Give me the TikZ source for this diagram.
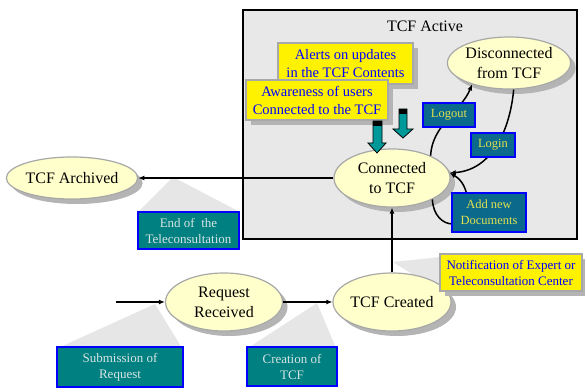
\documentclass[tikz,border=0pt]{standalone}
\usepackage{fontspec}
\setmainfont{Liberation Serif}
\usetikzlibrary{shapes.geometric, shadows, arrows.meta}

\begin{document}
\begin{tikzpicture}[x=1pt, y=-1pt,
  estado/.style={ellipse, draw=borda, line width=1.2pt, fill=creme, inner sep=0pt, align=center,
    font=\fontsize{16}{20}\selectfont,
    drop shadow={shadow xshift=5pt, shadow yshift=-5pt, fill=sombra, opacity=1}},
  nota/.style={rectangle, draw=borda, line width=1.5pt, fill=yellow, text=azul, inner sep=0pt, align=center,
    font=\fontsize{14.5}{18}\selectfont,
    drop shadow={shadow xshift=5pt, shadow yshift=-5pt, fill=sombra, opacity=1}},
  evento/.style={rectangle, draw=azul, line width=2pt, fill=verdeagua, text=textoclaro, inner sep=0pt, align=center,
    font=\fontsize{13}{16}\selectfont},
  acao/.style={rectangle, draw=azul, line width=2pt, fill=petroleo, text=textoamarelo, inner sep=0pt, align=center,
    font=\fontsize{12.5}{16}\selectfont},
  fluxo/.style={-{Latex[length=6pt,width=5pt]}, line width=1.5pt}]
% --- CORES ---
\definecolor{creme}{HTML}{FFFFCC}
\definecolor{borda}{HTML}{A8A8A8}
\definecolor{sombra}{HTML}{B4B4B4}
\definecolor{azul}{HTML}{0000FF}
\definecolor{verdeagua}{HTML}{008080}
\definecolor{petroleo}{HTML}{0B6A8C}
\definecolor{textoclaro}{HTML}{D8E4E4}
\definecolor{textoamarelo}{HTML}{E0E050}
\definecolor{fundo}{HTML}{E8E8E8}
\definecolor{balao}{HTML}{E6E6E6}
\definecolor{seta}{HTML}{009999}

\useasboundingbox (0,0) rectangle (585,390);

% LAYER 1: Moldura do estado composto
\draw[fill=fundo, line width=2pt] (243,10) rectangle (577,239);
\node (ativo) at (425,26) {\fontsize{16}{20}\selectfont TCF Active};

% LAYER 2: Baloes das transicoes
\fill[balao] (173,177) -- (139,211) -- (238,211) -- cycle; % End of the Teleconsultation
\fill[balao] (155,304) -- (58,348) -- (182,348) -- cycle; % Submission of Request
\fill[balao] (317,303) -- (248,348) -- (336,348) -- cycle; % Creation of TCF
\fill[balao] (393,262) -- (440,257) -- (440,292) -- cycle; % Notification

% LAYER 3: Estados
\node[estado, minimum width=118pt, minimum height=42pt] (arquivado) at (72,178) {TCF Archived};
\node[estado, minimum width=117pt, minimum height=58pt] (recebido) at (224,302) {Request\\Received};
\node[estado, minimum width=118pt, minimum height=58pt] (criado) at (392,302) {TCF Created};
\node[estado, minimum width=116pt, minimum height=58pt] (conectado) at (392,178) {Connected\\to TCF};
\node[estado, minimum width=120pt, minimum height=52pt] (desconectado) at (509,63) {Disconnected\\from TCF};

% LAYER 4: Transicoes
\coordinate (inicio) at (116,302);
\draw[fluxo] (inicio) -- (recebido.west);
\draw[fluxo] (recebido.east) -- (criado.west);
\draw[fluxo] (criado.north) -- (conectado.south);
\draw[fluxo] (conectado.west) -- (arquivado.east);
\draw[fluxo] (conectado.30) .. controls (432,125) and (462,110) .. (desconectado.210);
\draw[fluxo] (desconectado.-80) .. controls (510,130) and (492,170) .. (conectado.5);
\draw[fluxo] (conectado.-28) .. controls (434,232) and (472,232) .. (468,200) .. controls (466,188) and (462,180) .. (conectado.5);

% LAYER 5: Rotulos
\node[evento, minimum width=101pt, minimum height=37pt] (fim) at (188.5,230.5) {End of\ \ the\\Teleconsultation};
\node[evento, minimum width=126pt, minimum height=40pt] (submissao) at (120,367) {Submission of\\Request};
\node[evento, minimum width=90pt, minimum height=39pt] (criacao) at (292,366.5) {Creation of\\TCF};
\node[acao, minimum width=52pt, minimum height=24pt] (logout) at (449,115) {Logout};
\node[acao, minimum width=44pt, minimum height=24pt] (login) at (493,145) {Login};
\node[acao, minimum width=74pt, minimum height=39pt] (documentos) at (489,212.5) {Add new\\Documents};

% LAYER 6: Notas
\node[nota, minimum width=135pt, minimum height=41pt] (alertas) at (345.5,63.5) {Alerts on updates\\in the TCF Contents};
\node[nota, minimum width=142pt, minimum height=40pt] (usuarios) at (317,100) {Awareness of users\\Connected to the TCF};
\node[nota, minimum width=142pt, minimum height=37pt, font=\fontsize{13}{16}\selectfont] (notificacao) at (511,272.5) {Notification of Expert or\\Teleconsultation Center};

% LAYER 7: Setas de bloco
\draw[fill=seta, line width=0.8pt] (373,121) -- (382,121) -- (382,143) -- (386,143) -- (377,153) -- (368,143) -- (373,143) -- cycle;
\fill[black] (373,121) rectangle (382,126);
\draw[fill=seta, line width=0.8pt] (399,109) -- (407,109) -- (407,129) -- (413,129) -- (403,138) -- (393,129) -- (399,129) -- cycle;
\fill[black] (399,109) rectangle (407,114);
\end{tikzpicture}
\end{document}
